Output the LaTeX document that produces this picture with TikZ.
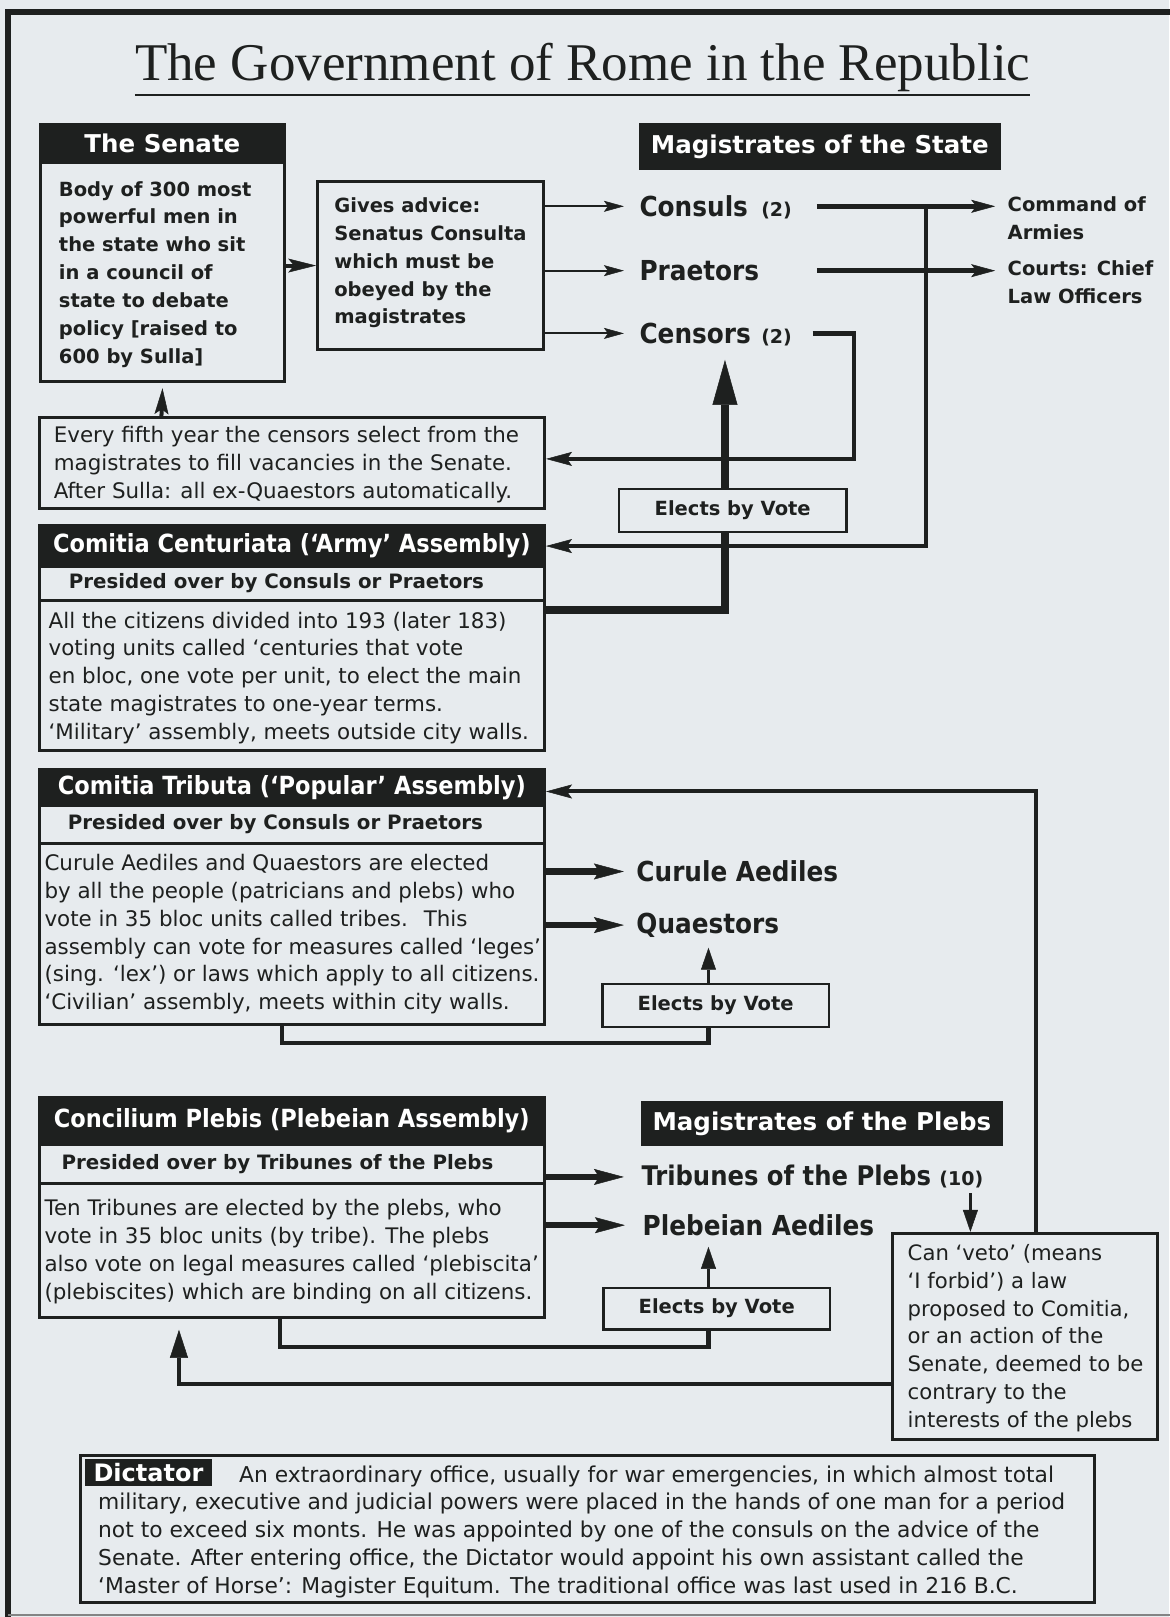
\documentclass[tikz,border=0pt]{standalone}
\usepackage{fontspec}
\setmainfont{DejaVu Sans}
\newfontfamily\condfont{DejaVu Sans Condensed}
\newfontfamily\titlefont{Liberation Serif}
\usetikzlibrary{fit,calc,arrows.meta}
\definecolor{paper}{RGB}{231,235,238}
\definecolor{ink}{RGB}{30,32,31}
\newcommand\fsBody{\fontsize{21.4}{27.84}\selectfont}
\newcommand\fsVeto{\fontsize{21.2}{27.84}\selectfont}
\newcommand\fsBold{\bfseries\fontsize{19.5}{27.84}\selectfont}
\newcommand\fsSub{\bfseries\fontsize{19.8}{24}\selectfont}
\newcommand\fsHdr{\bfseries\fontsize{24.5}{28}\selectfont}
\newcommand\fsAsm{\condfont\bfseries\fontsize{25}{28}\selectfont}
\newcommand\fsMag{\condfont\bfseries\fontsize{27.5}{30}\selectfont}
\newcommand\fsNum{\normalfont\bfseries\fontsize{19}{24}\selectfont}
\newcommand\fsDict{\fontsize{21.8}{27.84}\selectfont}
\begin{document}
\begin{tikzpicture}[x=1.0309pt,y=-1.0309pt,
  every node/.style={text=ink},
  bx/.style={draw=ink,line width=3pt,inner sep=0pt,fit={#1}},
  bxt/.style={draw=ink,line width=2.5pt,inner sep=0pt,fit={#1}},
  hdr/.style={draw=ink,fill=ink,line width=3pt,inner sep=0pt,fit={#1}},
  wt/.style={text=white,inner sep=0pt,anchor=center},
  ct/.style={inner sep=0pt,anchor=center},
  txt/.style={anchor=north west,inner sep=0pt,align=left},
  nm/.style={anchor=base west,inner sep=0pt,font=\fsMag},
  aThin/.style={draw=ink,line width=2.2pt,-{Stealth[length=20pt,width=11pt,inset=4pt,line width=0.5pt]}},
  aSen/.style={draw=ink,line width=4pt,-{Stealth[length=28pt,width=14pt,inset=6pt,line width=0.5pt]}},
  aMid/.style={draw=ink,line width=4pt,-{Stealth[length=26pt,width=14pt,inset=5pt,line width=0.5pt]}},
  aLong/.style={draw=ink,line width=5pt,-{Stealth[length=24pt,width=13pt,inset=5pt,line width=0.5pt]}},
  aThick/.style={draw=ink,line width=6.5pt,-{Stealth[length=30pt,width=16pt,inset=5pt,line width=0.5pt]}},
  aBig/.style={draw=ink,line width=8.5pt,-{Triangle[length=45pt,width=25pt,line width=0.5pt]}},
  aUp/.style={draw=ink,line width=3.5pt,-{Triangle[length=22pt,width=15pt,line width=0.5pt]}},
  aVeto/.style={draw=ink,line width=4.5pt,-{Triangle[length=28pt,width=18pt,line width=0.5pt]}},
  wireT/.style={draw=ink,line width=8.5pt},
  wireM/.style={draw=ink,line width=4.5pt}
]
\useasboundingbox (0,0) rectangle (1134,1568);
\fill[paper] (0,0) rectangle (1134,1568);
% outer frame
\draw[ink,line width=5.5pt] (1140,11.6) -- (8,11.6) -- (8,1572);
\draw[ink!55,line width=1.5pt] (8,1566) -- (1140,1566);

% title
\node[anchor=base,inner sep=0pt,font=\titlefont\fontsize{53}{58}\selectfont] (title) at (565,77.6) {The Government of Rome in the Republic};
\draw[ink,line width=2.6pt] ($(title.base west)+(0,14.5)$) -- ($(title.base east)+(0,14.5)$);

% Senate
\node[hdr={(39,121) (276,158)}] (senhdr) {};
\node[wt,font=\fsHdr] (senhdrtxt) at (senhdr.center) {The Senate};
\node[bx={(39,158) (276,370)}] (senbody) {};
\node[txt,font=\fsBold] (sentxt) at (57,171) {\strut Body of 300 most\\powerful men in\\the state who sit\\in a council of\\state to debate\\policy [raised to\\600 by Sulla]};

% advice
\node[bx={(308,176) (527,339)}] (advice) {};
\node[txt,font=\fsBold] (advtxt) at (324,187) {\strut Gives advice:\\Senatus Consulta\\which must be\\obeyed by the\\magistrates};
\draw[aSen] (senbody.east |- advice.west) -- (advice.west);

% magistrates of the state
\node[hdr={(621,121) (969,163)}] (magstate) {};
\node[wt,font=\fsHdr] (magstatetxt) at (magstate.center) {Magistrates of the State};
\node[nm] (consuls) at (620,210) {Consuls};
\node[anchor=base west,inner sep=0pt,font=\fsNum] (cons2) at (738,210) {(2)};
\node[nm] (praetors) at (620,272) {Praetors};
\node[nm] (censors) at (620,333) {Censors};
\node[anchor=base west,inner sep=0pt,font=\fsNum] (cens2) at (738,333) {(2)};
\node[txt,font=\fsBold] (command) at (977,186) {\strut Command of\\Armies};
\node[txt,font=\fsBold] (courts) at (977,248) {\strut Courts: Chief\\Law Officers};

\draw[aThin] (advice.east |- consuls.west) -- ($(consuls.west)+(-15,0)$);
\draw[aThin] (advice.east |- praetors.west) -- ($(praetors.west)+(-15,0)$);
\draw[aThin] (advice.east |- censors.west) -- ($(censors.west)+(-15,0)$);

\draw[aLong] ($(cons2.east |- consuls.west)+(24,0)$) -- ($(command.west |- consuls.west)+(-12,0)$);
\draw[aLong] ($(cons2.east |- praetors.west)+(24,0)$) -- ($(courts.west |- praetors.west)+(-12,0)$);

% every fifth year
\node[bx={(38,405) (528,493)}] (fifth) {};
\node[txt,font=\fsBody] (fifthtxt) at (52,410) {\strut Every fifth year the censors select from the\\magistrates to fill vacancies in the Senate.\\After Sulla: all ex-Quaestors automatically.};
\draw[aMid] ($(fifth.north west)+(120,0)$) -- ($(senbody.south west)+(120,5)$);

% censors to every fifth
\coordinate (x828) at (828,0);
\draw[wireM,-{Stealth[length=26pt,width=14pt,inset=5pt,line width=0.5pt]}] ($(cens2.east |- censors.west)+(20,0)$) -- (x828 |- censors.west) |- ($(fifth.east)+(0,-4)$);

% elects 1
\node[bxt={(600,474) (821,516)}] (elects1) {};
\node[ct,font=\fsBold] (elects1txt) at (elects1.center) {Elects by Vote};
\coordinate (censtip) at (703,349);
\draw[aBig] (censtip |- elects1.north) -- (censtip);

% Comitia Centuriata
\node[hdr={(38,510) (528,549)}] (cctitle) {};
\node[wt,font=\fsAsm] (cctitletxt) at (cctitle.center) {Comitia Centuriata (‘Army’ Assembly)};
\node[bx={(38,549) (528,582)}] (ccsub) {};
\node[anchor=west,inner sep=0pt,font=\fsSub] (ccsubtxt) at ($(ccsub.west)+(30,0)$) {Presided over by Consuls or Praetors};
\node[bx={(38,582) (528,728)}] (ccbody) {};
\node[txt,font=\fsBody] (cctxt) at (47,590) {\strut All the citizens divided into 193 (later 183)\\voting units called ‘centuries that vote\\en bloc, one vote per unit, to elect the main\\state magistrates to one-year terms.\\‘Military’ assembly, meets outside city walls.};
\draw[wireT] (censtip |- elects1.south) |- ($(ccbody.north east)+(0,11)$);

% consuls/praetors vertical to CC
\coordinate (x898) at (898,0);
\draw[aMid] (x898 |- consuls.west) |- (cctitle.east);

% Comitia Tributa
\node[hdr={(38,746) (528,781)}] (cttitle) {};
\node[wt,font=\fsAsm] (cttitletxt) at (cttitle.center) {Comitia Tributa (‘Popular’ Assembly)};
\node[bx={(38,781) (528,818)}] (ctsub) {};
\node[anchor=west,inner sep=0pt,font=\fsSub] (ctsubtxt) at ($(ctsub.west)+(29,0)$) {Presided over by Consuls or Praetors};
\node[bx={(38,818) (528,993)}] (ctbody) {};
\node[txt,font=\fsBody] (cttxt) at (43,825) {\strut Curule Aediles and Quaestors are elected\\by all the people (patricians and plebs) who\\vote in 35 bloc units called tribes.~ This\\assembly can vote for measures called ‘leges’\\(sing. ‘lex’) or laws which apply to all citizens.\\‘Civilian’ assembly, meets within city walls.};

\node[nm] (curule) at (617,855) {Curule Aediles};
\node[nm] (quaestors) at (617,905) {Quaestors};
\draw[aThick] (ctbody.east |- curule.west) -- ($(curule.west)+(-12,0)$);
\draw[aThick] (ctbody.east |- quaestors.west) -- ($(quaestors.west)+(-12,0)$);

\node[bxt={(584,954) (804,996)}] (elects2) {};
\node[ct,font=\fsBold] (elects2txt) at (elects2.center) {Elects by Vote};
\coordinate (qtip) at (687,919);
\draw[aUp] (qtip |- elects2.north) -- (qtip);
\draw[wireM] (qtip |- elects2.south) -- ++(0,14) -| ($(ctbody.south west)+(237,0)$);

% Concilium Plebis
\node[hdr={(38,1064) (528,1110)}] (cptitle) {};
\node[wt,font=\fsAsm] (cptitletxt) at (cptitle.center) {Concilium Plebis (Plebeian Assembly)};
\node[bx={(38,1110) (528,1148)}] (cpsub) {};
\node[anchor=west,inner sep=0pt,font=\fsSub] (cpsubtxt) at ($(cpsub.west)+(23,0)$) {Presided over by Tribunes of the Plebs};
\node[bx={(38,1148) (528,1278)}] (cpbody) {};
\node[txt,font=\fsBody] (cptxt) at (43,1160) {\strut Ten Tribunes are elected by the plebs, who\\vote in 35 bloc units (by tribe). The plebs\\also vote on legal measures called ‘plebiscita’\\(plebiscites) which are binding on all citizens.};

\node[hdr={(623,1069) (971,1110)}] (magplebs) {};
\node[wt,font=\fsHdr] (magplebstxt) at (magplebs.center) {Magistrates of the Plebs};
\node[nm,font=\condfont\bfseries\fontsize{27}{30}\selectfont] (tribunes) at (622,1150) {Tribunes of the Plebs {\fsNum(10)}};
\node[nm] (plaed) at (623,1198) {Plebeian Aediles};
\draw[aThick] (cpbody.east |- tribunes.west) -- ($(tribunes.west)+(-17,0)$);
\draw[aThick] (cpbody.east |- plaed.west) -- ($(plaed.west)+(-17,0)$);

% veto box
\node[bx={(865,1196) (1122,1396)}] (veto) {};
\node[txt,font=\fsVeto] (vetotxt) at (880,1203) {\strut Can ‘veto’ (means\\‘I forbid’) a law\\proposed to Comitia,\\or an action of the\\Senate, deemed to be\\contrary to the\\interests of the plebs};
\coordinate (t10) at (941,1157);
\draw[aUp] (t10) -- (t10 |- veto.north);
\draw[aMid] ($(veto.north west)+(141,0)$) |- ($(cttitle.east)+(0,4)$);

\node[bxt={(585,1249) (805,1289)}] (elects3) {};
\node[ct,font=\fsBold] (elects3txt) at (elects3.center) {Elects by Vote};
\coordinate (ptip) at (687,1209);
\draw[aUp] (ptip |- elects3.north) -- (ptip);
\draw[wireM] (ptip |- elects3.south) -- ++(0,16) -| ($(cpbody.south west)+(235,0)$);

\draw[aVeto] ($(veto.west)+(0,46)$) -| ($(cpbody.south west)+(137,10)$);

% Dictator
\node[bx={(78,1411) (1061,1554)}] (dict) {};
\node[hdr={(83,1415) (205,1440)},line width=0pt] (dictlbl) {};
\node[wt,font=\bfseries\fontsize{24}{26}\selectfont] (dictlbltxt) at (dictlbl.center) {Dictator};
\node[txt,font=\fsDict] (dicttxt) at (95,1418) {\strut\hspace*{141pt}An extraordinary office, usually for war emergencies, in which almost total\\military, executive and judicial powers were placed in the hands of one man for a period\\not to exceed six monts. He was appointed by one of the consuls on the advice of the\\Senate. After entering office, the Dictator would appoint his own assistant called the\\‘Master of Horse’: Magister Equitum. The traditional office was last used in 216 B.C.};
\end{tikzpicture}
\end{document}
